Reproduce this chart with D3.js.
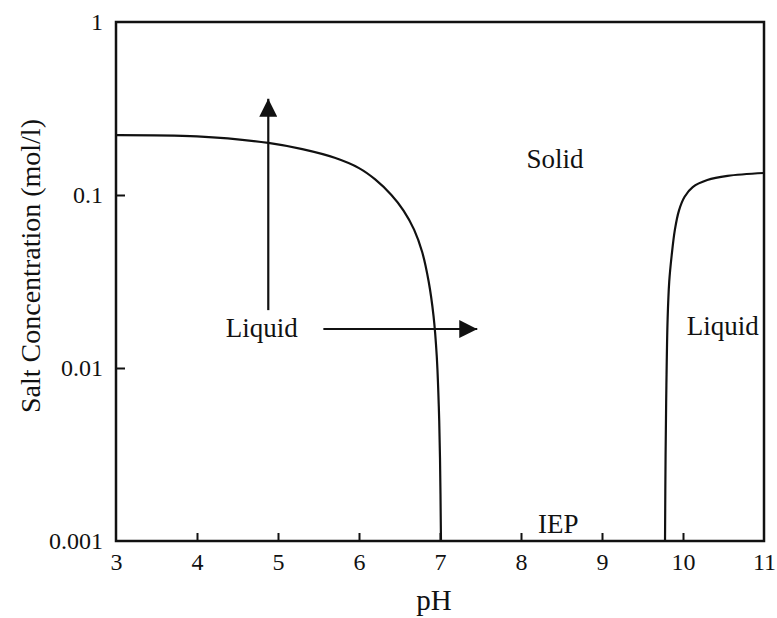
<!DOCTYPE html>
<html>
<head>
<meta charset="utf-8">
<script src="https://cdn.jsdelivr.net/npm/d3@7/dist/d3.min.js"></script>
<style>
  html, body { margin: 0; padding: 0; background: #fff; }
  svg text { font-family: "Liberation Serif", "DejaVu Serif", serif; fill: #111; }
</style>
</head>
<body>
<svg id="chart" width="777" height="618"></svg>
<script>
// Phase boundary, acidic side: [pH, salt concentration mol/l]
const acidBoundary = [
  [3.00, 0.222], [4.00, 0.218], [4.88, 0.200], [5.30, 0.184], [5.70, 0.164],
  [6.00, 0.143], [6.20, 0.123], [6.40, 0.100], [6.55, 0.0813], [6.68, 0.0631],
  [6.78, 0.0468], [6.86, 0.0316], [6.92, 0.0200], [6.96, 0.0117], [6.985, 0.00603],
  [7.00, 0.00302], [7.012, 0.001]
];
// Phase boundary, basic side
const baseBoundary = [
  [9.778, 0.001], [9.785, 0.00316], [9.795, 0.00794], [9.81, 0.0191], [9.83, 0.0316],
  [9.86, 0.0447], [9.90, 0.0631], [9.95, 0.0813], [10.02, 0.0977], [10.12, 0.111],
  [10.30, 0.122], [10.55, 0.129], [11.00, 0.134]
];
// Arrows: [fromPH, fromConc, toPH, toConc]
const arrows = [
  [4.88, 0.0216, 4.88, 0.36],
  [5.56, 0.0168, 7.46, 0.0168]
];
// Region labels (baseline anchored): [text, pH, conc]
const regionLabels = [
  ["Solid", 8.42, 0.143],
  ["Liquid", 4.80, 0.0151],
  ["Liquid", 10.49, 0.0155],
  ["IEP", 8.46, 0.00111]
];
const xTicks = [3, 4, 5, 6, 7, 8, 9, 10, 11];
const yTicks = [0.001, 0.01, 0.1, 1];
const yTickLabels = ["0.001", "0.01", "0.1", "1"];

const svg = d3.select("#chart");
const margin = { left: 116, right: 13, top: 22, bottom: 77 };
const W = 777, H = 618;

const x = d3.scaleLinear().domain([3, 11]).range([margin.left, W - margin.right]);
const y = d3.scaleLog().domain([0.001, 1]).range([H - margin.bottom, margin.top]);

// frame
svg.append("rect")
  .attr("x", x(3)).attr("y", y(1))
  .attr("width", x(11) - x(3)).attr("height", y(0.001) - y(1))
  .attr("fill", "none").attr("stroke", "#111").attr("stroke-width", 2.5);

// x axis: inward ticks
const xAxis = d3.axisBottom(x).tickValues(xTicks).tickSizeInner(-8).tickSizeOuter(0).tickPadding(12)
  .tickFormat(d3.format("d"));
const gx = svg.append("g").attr("transform", `translate(0,${y(0.001)})`).call(xAxis);
gx.select(".domain").remove();
gx.selectAll(".tick line").attr("stroke", "#111").attr("stroke-width", 2)
  .filter(d => d === 3 || d === 11).remove();
gx.selectAll(".tick text").attr("font-size", 24).attr("font-family", "Liberation Serif").attr("fill", "#111");

// y axis: inward ticks
const yAxis = d3.axisLeft(y).tickValues(yTicks).tickSizeInner(-9).tickSizeOuter(0).tickPadding(13)
  .tickFormat((d, i) => yTickLabels[i]);
const gy = svg.append("g").attr("transform", `translate(${x(3)},0)`).call(yAxis);
gy.select(".domain").remove();
gy.selectAll(".tick line").attr("stroke", "#111").attr("stroke-width", 2)
  .filter(d => d === 1 || d === 0.001).remove();
gy.selectAll(".tick text").attr("font-size", 24).attr("font-family", "Liberation Serif").attr("fill", "#111");

// axis titles
svg.append("text").attr("x", x(7) - 6).attr("y", 610)
  .attr("text-anchor", "middle").attr("font-size", 29).text("pH");
svg.append("text")
  .attr("transform", `translate(40,266) rotate(-90)`)
  .attr("text-anchor", "middle").attr("font-size", 28).text("Salt Concentration (mol/l)");

// boundaries
const line = d3.line().x(d => x(d[0])).y(d => y(d[1])).curve(d3.curveCatmullRom.alpha(0.5));
[acidBoundary, baseBoundary].forEach(data => {
  svg.append("path").datum(data).attr("d", line)
    .attr("fill", "none").attr("stroke", "#111").attr("stroke-width", 2.2);
});

// arrows
const defs = svg.append("defs");
defs.append("marker").attr("id", "head")
  .attr("viewBox", "0 0 10 10").attr("refX", 10).attr("refY", 5)
  .attr("markerWidth", 18).attr("markerHeight", 18).attr("markerUnits", "userSpaceOnUse")
  .attr("orient", "auto")
  .append("path").attr("d", "M0,0 L10,5 L0,10 Z").attr("fill", "#111");
arrows.forEach(a => {
  svg.append("line")
    .attr("x1", x(a[0])).attr("y1", y(a[1]))
    .attr("x2", x(a[2])).attr("y2", y(a[3]))
    .attr("stroke", "#111").attr("stroke-width", 2.2)
    .attr("marker-end", "url(#head)");
});

// region labels
regionLabels.forEach(l => {
  svg.append("text").attr("x", x(l[1])).attr("y", y(l[2]))
    .attr("text-anchor", "middle")
    .attr("font-size", 27).text(l[0]);
});
</script>
</body>
</html>
